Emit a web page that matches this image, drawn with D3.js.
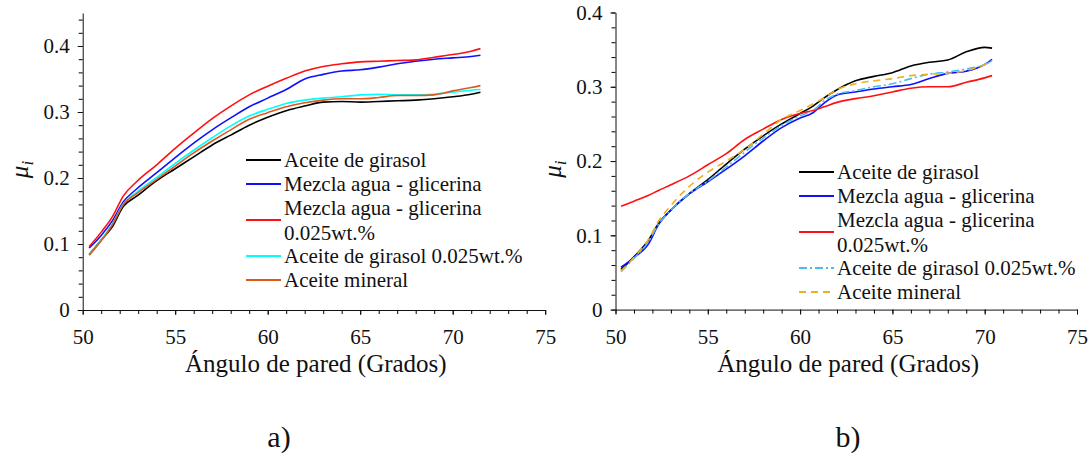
<!DOCTYPE html>
<html>
<head>
<meta charset="utf-8">
<script src="https://cdn.jsdelivr.net/npm/d3@7"></script>
<style>
  html, body { margin: 0; padding: 0; background: #fff; }
  svg { display: block; }
  svg text { font-family: "Liberation Serif", "Times New Roman", Times, serif !important; fill: #111; }
</style>
</head>
<body>
<svg id="fig" width="1092" height="456"></svg>
<script>
// Wall angle (degrees) sampling for each panel
const anglesA = [50.35, 51, 51.6, 52.2, 52.9, 54, 55, 56, 57, 58, 59, 60, 61, 62, 63, 64, 65, 66, 67, 68, 69, 70, 71, 71.5];
const anglesB = [50.3, 51, 51.8, 52.3, 53, 54, 55, 56, 57, 58, 59, 60, 60.7, 61.3, 62, 63, 64, 65, 66, 67, 68, 69, 70, 70.4];

// Panel a) friction coefficient mu_i
const girasolA        = [0.084, 0.106, 0.126, 0.157, 0.172, 0.196, 0.214, 0.232, 0.250, 0.265, 0.280, 0.292, 0.302, 0.309, 0.315, 0.316, 0.315, 0.316, 0.317, 0.318, 0.320, 0.323, 0.327, 0.330];
const aguaGlicerinaA  = [0.094, 0.113, 0.135, 0.164, 0.183, 0.208, 0.231, 0.253, 0.273, 0.291, 0.308, 0.321, 0.334, 0.350, 0.357, 0.362, 0.364, 0.368, 0.373, 0.377, 0.380, 0.382, 0.384, 0.386];
const aguaGliNanoA    = [0.096, 0.118, 0.141, 0.173, 0.194, 0.220, 0.245, 0.268, 0.290, 0.309, 0.326, 0.339, 0.351, 0.362, 0.369, 0.373, 0.376, 0.377, 0.378, 0.379, 0.383, 0.387, 0.392, 0.396];
const girasolNanoA    = [0.084, 0.106, 0.130, 0.161, 0.178, 0.201, 0.222, 0.242, 0.261, 0.279, 0.294, 0.304, 0.313, 0.318, 0.321, 0.323, 0.326, 0.327, 0.326, 0.326, 0.327, 0.330, 0.333, 0.334];
const mineralA        = [0.083, 0.105, 0.129, 0.160, 0.176, 0.198, 0.218, 0.238, 0.256, 0.273, 0.289, 0.299, 0.308, 0.314, 0.318, 0.320, 0.320, 0.322, 0.325, 0.325, 0.326, 0.332, 0.337, 0.340];

// Panel b) friction coefficient mu_i
const girasolB        = [0.054, 0.071, 0.094, 0.115, 0.134, 0.156, 0.175, 0.196, 0.216, 0.234, 0.250, 0.264, 0.274, 0.285, 0.296, 0.308, 0.314, 0.319, 0.328, 0.333, 0.336, 0.347, 0.353, 0.352];
const aguaGlicerinaB  = [0.057, 0.070, 0.089, 0.113, 0.134, 0.156, 0.172, 0.189, 0.207, 0.227, 0.245, 0.258, 0.265, 0.278, 0.289, 0.293, 0.297, 0.300, 0.303, 0.311, 0.318, 0.321, 0.330, 0.337];
const aguaGliNanoB    = [0.139, 0.146, 0.154, 0.160, 0.168, 0.180, 0.195, 0.210, 0.229, 0.243, 0.256, 0.264, 0.268, 0.273, 0.279, 0.284, 0.288, 0.293, 0.298, 0.300, 0.300, 0.306, 0.312, 0.315];
const girasolNanoB    = [0.051, 0.069, 0.092, 0.114, 0.134, 0.156, 0.173, 0.192, 0.212, 0.231, 0.248, 0.261, 0.268, 0.281, 0.290, 0.295, 0.300, 0.304, 0.311, 0.317, 0.320, 0.324, 0.330, 0.335];
const mineralB        = [0.052, 0.070, 0.095, 0.118, 0.140, 0.166, 0.185, 0.200, 0.216, 0.236, 0.256, 0.268, 0.277, 0.285, 0.296, 0.304, 0.308, 0.311, 0.315, 0.317, 0.318, 0.322, 0.330, 0.335];

// Legend entries (second line of the third entry wraps)
const seriesNames = [
  ["Aceite de girasol"],
  ["Mezcla agua - glicerina"],
  ["Mezcla agua - glicerina", "0.025wt.%"],
  ["Aceite de girasol 0.025wt.%"],
  ["Aceite mineral"]
];

const xTickValues = [50, 55, 60, 65, 70, 75];
const xAxisTitle = "Ángulo de pared (Grados)";
const panelTags = ["a)", "b)"];

const SERIF = '"Liberation Serif", "Times New Roman", Times, serif';
const svg = d3.select("#fig");

function drawPanel(cfg) {
  const g = svg.append("g");
  const x = d3.scaleLinear().domain([50, 75]).range([cfg.x0, cfg.x1]);
  const y = d3.scaleLinear().domain([0, cfg.yMax]).range([cfg.y0, cfg.y1]);

  // minor ticks
  const minorX = d3.range(50, 75.001, 1);
  const minorY = d3.range(0, cfg.yMax + 1e-9, 0.02);
  const xMinor = d3.axisBottom(x).tickValues(minorX).tickSize(4).tickFormat("");
  const yMinor = d3.axisLeft(y).tickValues(minorY).tickSize(4).tickFormat("");
  g.append("g").attr("transform", `translate(0,${cfg.y0})`).call(xMinor).call(s => s.select(".domain").remove());
  g.append("g").attr("transform", `translate(${cfg.x0},0)`).call(yMinor).call(s => s.select(".domain").remove());

  // major axes with labels
  const xAxis = d3.axisBottom(x).tickValues(xTickValues).tickSize(5).tickPadding(14).tickSizeOuter(0).tickFormat(d3.format("d"));
  const yAxis = d3.axisLeft(y).tickValues(cfg.yTicks).tickSize(5).tickPadding(8).tickSizeOuter(0)
    .tickFormat(d => d === 0 ? "0" : d3.format(".1f")(d));
  const gx = g.append("g").attr("transform", `translate(0,${cfg.y0})`).call(xAxis);
  const gy = g.append("g").attr("transform", `translate(${cfg.x0},0)`).call(yAxis);
  [gx, gy].forEach(a => {
    a.attr("font-family", SERIF).attr("font-size", 21);
    a.selectAll("text").attr("fill", "#111");
    a.selectAll("line").attr("stroke", "#111");
    a.select(".domain").attr("stroke", "#111");
  });

  // series lines
  const line = d3.line().x(d => x(d[0])).y(d => y(d[1])).curve(d3.curveMonotoneX);
  cfg.series.forEach(s => {
    const pts = cfg.angles.map((a, i) => [a, s.values[i]]);
    g.append("path").datum(pts)
      .attr("d", line)
      .attr("fill", "none")
      .attr("stroke", s.color)
      .attr("stroke-width", 1.6)
      .attr("stroke-dasharray", s.dash || null)
      .attr("stroke-linejoin", "round");
  });

  // legend
  const lg = g.append("g").attr("font-family", SERIF);
  cfg.series.forEach((s, i) => {
    const yy = cfg.legendRows[i];
    lg.append("line")
      .attr("x1", cfg.legendX).attr("x2", cfg.legendX + 35)
      .attr("y1", yy).attr("y2", yy)
      .attr("stroke", s.color).attr("stroke-width", 1.8)
      .attr("stroke-dasharray", s.dash || null);
    const names = seriesNames[i];
    names.forEach((nm, k) => {
      const off = names.length === 1 ? 0 : (k === 0 ? -12.5 : 12.5);
      lg.append("text")
        .attr("x", cfg.legendX + 38).attr("y", yy + off)
        .attr("dy", "0.34em")
        .style("font-size", "21px")
        .text(nm);
    });
  });

  // axis title
  g.append("text")
    .attr("x", x(62.6)).attr("y", cfg.y0 + 62)
    .attr("text-anchor", "middle")
    .style("font-size", "25px")
    .text(xAxisTitle);

  // y label mu_i
  const yl = g.append("text")
    .attr("transform", `translate(${cfg.x0 - 55},${(cfg.y0 + cfg.y1) / 2 + 8}) rotate(-90)`)
    .attr("text-anchor", "middle")
    .style("font-size", "25px")
    .style("font-style", "italic");
  yl.append("tspan").text("μ");
  yl.append("tspan").attr("dy", "0.3em").style("font-size", "17px").text("i");

  // panel tag
  svg.append("text")
    .attr("x", cfg.tagX).attr("y", 447)
    .attr("text-anchor", "middle")
    .style("font-size", "30px")
    .text(cfg.tag);
}

drawPanel({
  x0: 82.7, x1: 545.2, y0: 310, y1: 13, yMax: 0.45,
  yTicks: [0, 0.1, 0.2, 0.3, 0.4],
  angles: anglesA,
  series: [
    { values: girasolA, color: "#000000" },
    { values: aguaGlicerinaA, color: "#1010ff" },
    { values: aguaGliNanoA, color: "#ff1010" },
    { values: girasolNanoA, color: "#00ffff" },
    { values: mineralA, color: "#dd5a1e" }
  ],
  legendX: 246, legendRows: [160, 184, 220, 256, 280],
  tag: panelTags[0], tagX: 279
});

drawPanel({
  x0: 615.5, x1: 1077, y0: 309.6, y1: 12.5, yMax: 0.4,
  yTicks: [0, 0.1, 0.2, 0.3, 0.4],
  angles: anglesB,
  series: [
    { values: girasolB, color: "#000000" },
    { values: aguaGlicerinaB, color: "#1010ff" },
    { values: aguaGliNanoB, color: "#ff1010" },
    { values: girasolNanoB, color: "#4dbdee", dash: "8,3,2,3" },
    { values: mineralB, color: "#efb020", dash: "7,5" }
  ],
  legendX: 799, legendRows: [172, 196, 232, 268, 292],
  tag: panelTags[1], tagX: 848
});
</script>
</body>
</html>
